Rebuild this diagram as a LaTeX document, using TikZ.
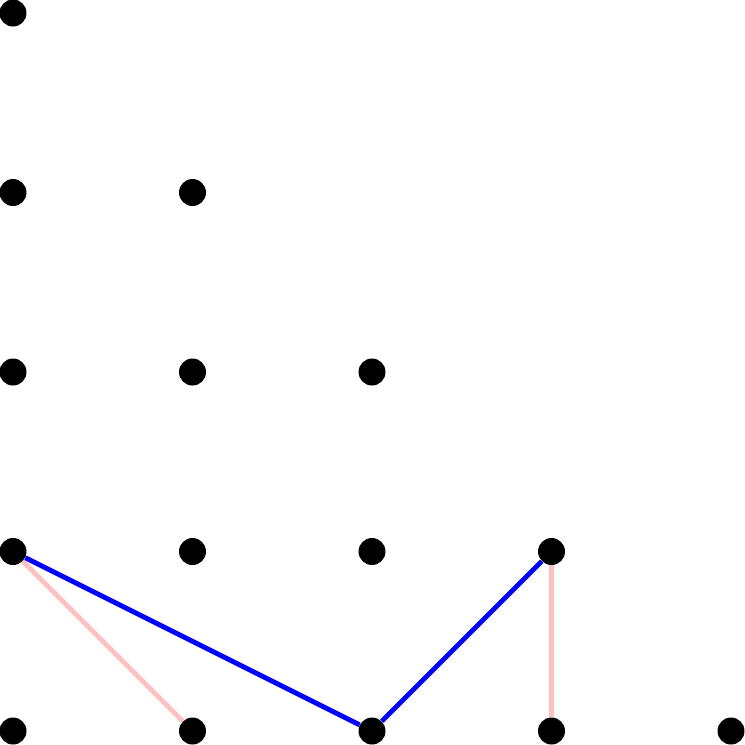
\documentclass[tikz,border=0pt]{standalone}
\begin{document}
\begin{tikzpicture}[x=0.02cm,y=-0.02cm,
  dot/.style={circle,fill=black,minimum size=0.54cm,inner sep=0pt},
  blueline/.style={blue,line width=2.8pt},
  pinkline/.style={color={rgb,255:red,255;green,192;blue,192},line width=2.8pt}]
\useasboundingbox (0,0) rectangle (745,745);
\foreach \r in {0,...,4}{
  \foreach \c in {0,...,\r}{
    \node[dot] (d\r\c) at ({13+179.5*\c},{13+179.5*\r}) {};
  }
}
\draw[pinkline] (d30) -- (d41);
\draw[blueline] (d30) -- (d42);
\draw[blueline] (d42) -- (d33);
\draw[pinkline] (d33) -- (d43);
\end{tikzpicture}
\end{document}
